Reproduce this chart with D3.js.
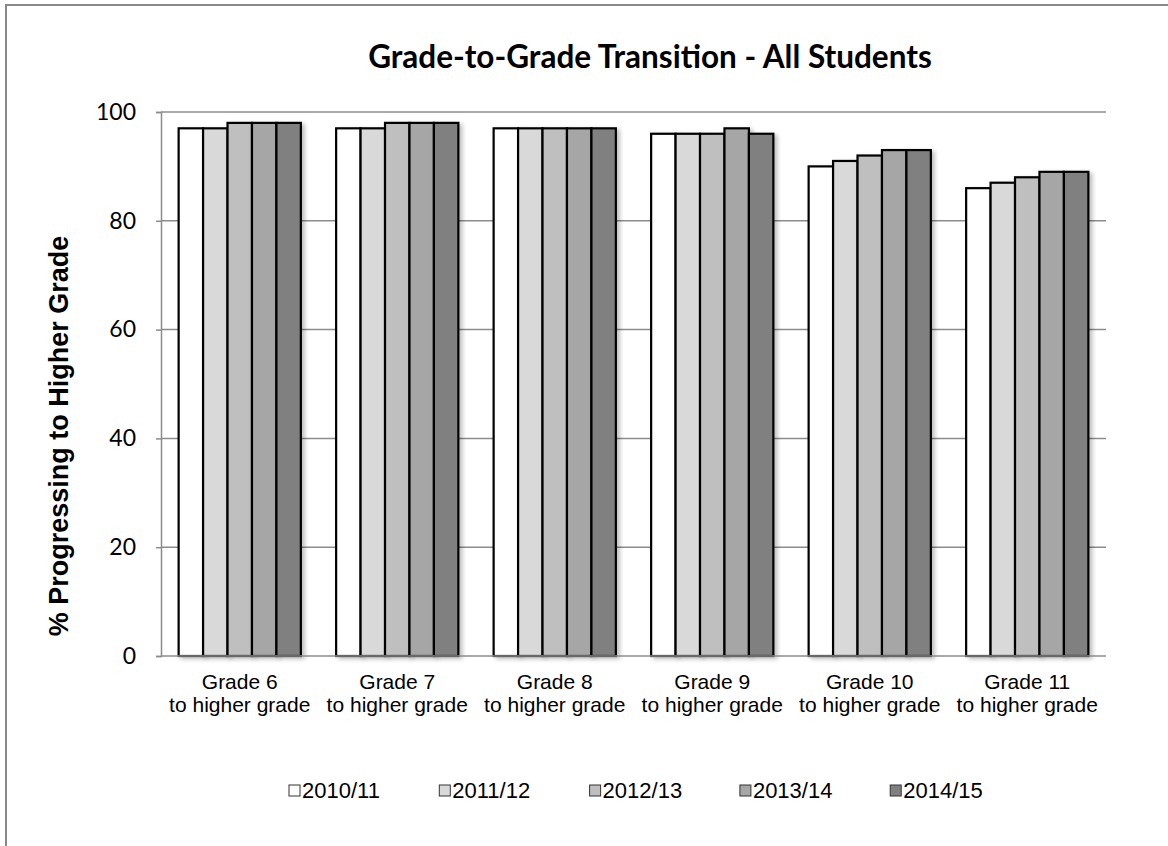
<!DOCTYPE html>
<html>
<head>
<meta charset="utf-8">
<script src="https://cdn.jsdelivr.net/npm/d3@7"></script>
<style>
  body { margin: 0; background: #fff; }
  svg { display: block; }
</style>
</head>
<body>
<div id="chart"></div>
<script>
// Chart data
const categories = ["Grade 6", "Grade 7", "Grade 8", "Grade 9", "Grade 10", "Grade 11"];
const seriesNames = ["2010/11", "2011/12", "2012/13", "2013/14", "2014/15"];
const values2010 = [97, 97, 97, 96, 90, 86];
const values2011 = [97, 97, 97, 96, 91, 87];
const values2012 = [98, 98, 97, 96, 92, 88];
const values2013 = [98, 98, 97, 97, 93, 89];
const values2014 = [98, 98, 97, 96, 93, 89];
const yTicks = [0, 20, 40, 60, 80, 100];

const seriesValues = [values2010, values2011, values2012, values2013, values2014];
const colors = ["#ffffff", "#d9d9d9", "#bfbfbf", "#a6a6a6", "#808080"];

const W = 1168, H = 846;
const margin = {top: 112, left: 161, right: 62, bottom: 190};
const width = W - margin.left - margin.right;
const height = H - margin.top - margin.bottom;

const svg = d3.select('#chart').append('svg')
    .attr('width', W)
    .attr('height', H);

// soft shadow like the original
const defs = svg.append('defs');
const f = defs.append('filter').attr('id', 'shadow')
    .attr('x', '-20%').attr('y', '-5%').attr('width', '150%').attr('height', '115%');
f.append('feDropShadow').attr('dx', 3).attr('dy', 2)
    .attr('stdDeviation', 2).attr('flood-color', '#000').attr('flood-opacity', 0.25);

// outer chart border
svg.append('rect')
    .attr('x', 6).attr('y', 5)
    .attr('width', W + 20).attr('height', H + 20)
    .attr('fill', 'none')
    .attr('stroke', '#898989')
    .attr('stroke-width', 2);

const g = svg.append('g').attr('transform', `translate(${margin.left},${margin.top})`);

const x0 = d3.scaleBand().domain(categories).range([0, width])
    .paddingInner(0.224).paddingOuter(0.112);
const x1 = d3.scaleBand().domain(seriesNames).range([0, x0.bandwidth()]);
const y = d3.scaleLinear().domain([0, 100]).range([height, 0]);

// gridlines
g.selectAll('.grid')
    .data(yTicks.filter(t => t > 0))
    .enter().append('line')
    .attr('x1', 0).attr('x2', width)
    .attr('y1', d => y(d)).attr('y2', d => y(d))
    .attr('stroke', '#8c8c8c')
    .attr('stroke-width', 1.5);

// y axis
const yAxis = g.append('g').call(d3.axisLeft(y).tickValues(yTicks).tickSize(5).tickPadding(20));
yAxis.select('.domain').attr('stroke', '#8c8c8c').attr('stroke-width', 1.5);
yAxis.selectAll('.tick line').attr('stroke', '#8c8c8c').attr('stroke-width', 1.5);
yAxis.selectAll('.tick text')
    .attr('font-family', 'Lato, sans-serif')
    .attr('font-size', 23)
    .attr('fill', '#000');

// bars
const groups = g.selectAll('.group')
    .data(categories)
    .enter().append('g')
    .attr('transform', d => `translate(${x0(d)},0)`);

groups.selectAll('rect')
    .data((d, i) => seriesNames.map((s, j) => ({series: s, value: seriesValues[j][i], idx: j})))
    .enter().append('rect')
    .attr('x', d => x1(d.series))
    .attr('y', d => y(d.value))
    .attr('width', x1.bandwidth())
    .attr('height', d => height - y(d.value))
    .attr('fill', d => colors[d.idx])
    .attr('stroke', '#000')
    .attr('stroke-width', 2.2)
    .attr('filter', 'url(#shadow)');

// x axis line
g.append('line')
    .attr('x1', 0).attr('x2', width)
    .attr('y1', height).attr('y2', height)
    .attr('stroke', '#8c8c8c')
    .attr('stroke-width', 1.5);

// category labels (two lines)
const xl = g.selectAll('.xlabel')
    .data(categories)
    .enter().append('text')
    .attr('x', d => x0(d) + x0.bandwidth() / 2)
    .attr('y', height + 33)
    .attr('text-anchor', 'middle')
    .attr('font-family', 'Liberation Sans, Arial, sans-serif')
    .attr('font-size', 21)
    .attr('fill', '#000');
xl.append('tspan').text(d => d);
xl.append('tspan')
    .attr('x', d => x0(d) + x0.bandwidth() / 2)
    .attr('dy', 23)
    .text('to higher grade');

// y axis title
svg.append('text')
    .attr('transform', 'translate(68,436) rotate(-90)')
    .attr('text-anchor', 'middle')
    .attr('font-family', 'Liberation Sans, Arial, sans-serif')
    .attr('font-weight', 'bold')
    .attr('font-size', 27)
    .attr('fill', '#000')
    .text('% Progressing to Higher Grade');

// title
svg.append('text')
    .attr('x', 650).attr('y', 68)
    .attr('text-anchor', 'middle')
    .attr('font-family', 'Lato, sans-serif')
    .attr('font-weight', 'bold')
    .attr('font-size', 31.5)
    .attr('fill', '#000')
    .text('Grade-to-Grade Transition - All Students');

// legend
const legend = svg.append('g');
const legendItems = legend.selectAll('g')
    .data(seriesNames)
    .enter().append('g')
    .attr('transform', (d, i) => `translate(${289 + i * 150.3},798)`);
legendItems.append('rect')
    .attr('x', 0).attr('y', -13)
    .attr('width', 11).attr('height', 11)
    .attr('fill', (d, i) => colors[i])
    .attr('stroke', '#333')
    .attr('stroke-width', 1);
legendItems.append('text')
    .attr('x', 13).attr('y', 0)
    .attr('font-family', 'Liberation Sans, Arial, sans-serif')
    .attr('font-size', 22)
    .attr('fill', '#000')
    .text(d => d);
</script>
</body>
</html>
